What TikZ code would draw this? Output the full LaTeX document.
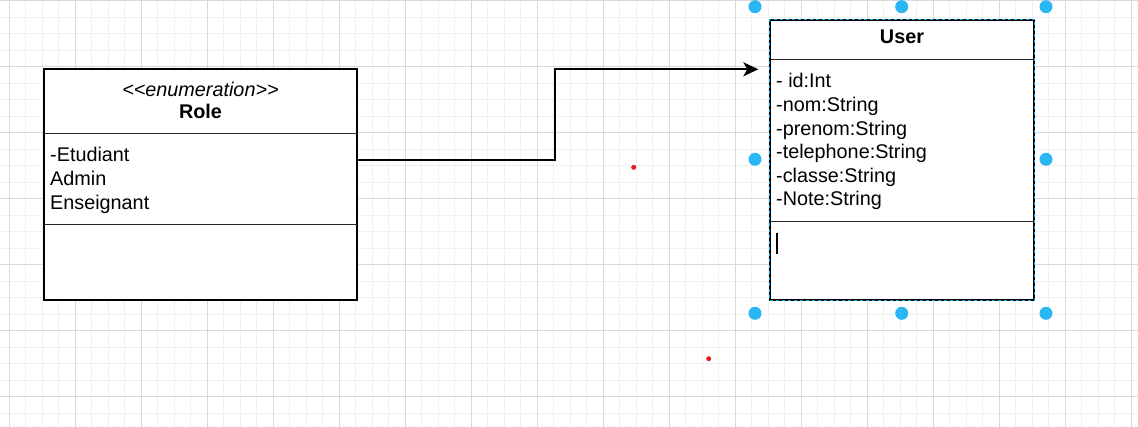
\documentclass[tikz,border=0pt]{standalone}
\usepackage{fontspec}
\setmainfont{Liberation Sans}
\usetikzlibrary{arrows.meta}
\usetikzlibrary{calc}
\definecolor{handleblue}{HTML}{29B6F2}
\definecolor{selectblue}{HTML}{00A8FF}
\definecolor{dotred}{HTML}{E51C1C}

\begin{document}
\begin{tikzpicture}[x=1pt,y=-1pt,
        gridminor/.style={draw=black!6, line width=0.8pt},
        gridmajor/.style={draw=black!15, line width=0.8pt},
        umlbox/.style={draw=black, line width=1.3pt, fill=white, inner sep=0pt},
        umlrule/.style={draw=black!85, line width=0.9pt},
        umltext/.style={font=\fontsize{19.8}{23.6}\selectfont, inner sep=0pt, align=left},
        handle/.style={circle, fill=handleblue, inner sep=0pt, minimum size=13pt},
        reddot/.style={circle, fill=dotred, inner sep=0pt, minimum size=5pt},
        conn/.style={draw=black, line width=1.8pt, -{Stealth[length=15pt, width=14pt, inset=4pt]}}]
        \newcommand{\figroleleft}{44}
        \newcommand{\figroleright}{357}
        \newcommand{\figroletop}{69}
        \newcommand{\figrolebottom}{300}
        \newcommand{\figroleheady}{133.3}
        \newcommand{\figroleattry}{224.3}
        \newcommand{\figuserleft}{770}
        \newcommand{\figuserright}{1034}
        \newcommand{\figusertop}{20}
        \newcommand{\figuserbottom}{300}
        \newcommand{\figuserheady}{59.3}
        \newcommand{\figuserattry}{221.7}
        \newcommand{\figelbowx}{555.3}
        \useasboundingbox (0,0) rectangle (1138,427);
        \fill[white] (0,0) rectangle (1138,427);
        % grid
        \foreach \k in {0,...,69}
            \draw[gridminor] ({-7.2+16.5*\k},0) -- ({-7.2+16.5*\k},427);
        \foreach \k in {0,...,26}
            \draw[gridminor] (0,{0.7+16.5*\k}) -- (1138,{0.7+16.5*\k});
        \foreach \k in {0,...,17}
            \draw[gridmajor] ({9.3+66*\k},0) -- ({9.3+66*\k},427);
        \foreach \k in {0,...,6}
            \draw[gridmajor] (0,{0.7+66*\k}) -- (1138,{0.7+66*\k});
        % Role
        \node[umlbox, minimum width=\figroleright-\figroleleft, minimum height=\figrolebottom-\figroletop] (role)
            at ({0.5*(\figroleleft+\figroleright)},{0.5*(\figroletop+\figrolebottom)}) {};
        \draw[umlrule] (\figroleleft,\figroleheady) -- (\figroleright,\figroleheady);
        \draw[umlrule] (\figroleleft,\figroleattry) -- (\figroleright,\figroleattry);
        \node[umltext, font=\fontsize{19.8}{23.6}\selectfont\itshape] (rolestereo) at (role.center |- 0,89)
            {{\textless}{\textless}enumeration{\textgreater}{\textgreater}};
        \node[umltext, font=\fontsize{19.8}{23.6}\selectfont\bfseries] (rolename) at (role.center |- 0,111.5) {Role};
        \node[umltext, anchor=west] (roleattrs) at (50,180.3) {-Etudiant\\Admin\\Enseignant};
        % User
        \node[umlbox, minimum width=\figuserright-\figuserleft, minimum height=\figuserbottom-\figusertop] (user)
            at ({0.5*(\figuserleft+\figuserright)},{0.5*(\figusertop+\figuserbottom)}) {};
        \draw[umlrule] (\figuserleft,\figuserheady) -- (\figuserright,\figuserheady);
        \draw[umlrule] (\figuserleft,\figuserattry) -- (\figuserright,\figuserattry);
        \draw[selectblue, line width=1pt, dash pattern=on 3pt off 3pt] (user.north west) rectangle (user.south east);
        \node[umltext, font=\fontsize{19.8}{23.6}\selectfont\bfseries] (username) at (user.center |- 0,36.5) {User};
        \node[umltext, anchor=west] (userattrs) at (776,141.8)
            {- id:Int\\-nom:String\\-prenom:String\\-telephone:String\\-classe:String\\-Note:String};
        \draw[black, line width=1.6pt] (777,233) -- (777,254);
        % connector
        \coordinate (rolestart) at (role.east |- 0,160);
        \coordinate (usertip) at (758.3,69.3);
        \draw[conn] (rolestart) -- (\figelbowx,160) |- (usertip);
        % selection handles
        \foreach \hx/\hy [count=\n] in {755/6.7, 901.7/6.7, 1046/6.7, 755/159.3, 1046/159.3, 755/313.3, 901.7/313.3, 1046/313.3}
            \node[handle] (handle\n) at (\hx,\hy) {};
        \node[reddot] (dota) at (633.7,167.3) {};
        \node[reddot] (dotb) at (708.7,358.7) {};
    \end{tikzpicture}
\end{document}
